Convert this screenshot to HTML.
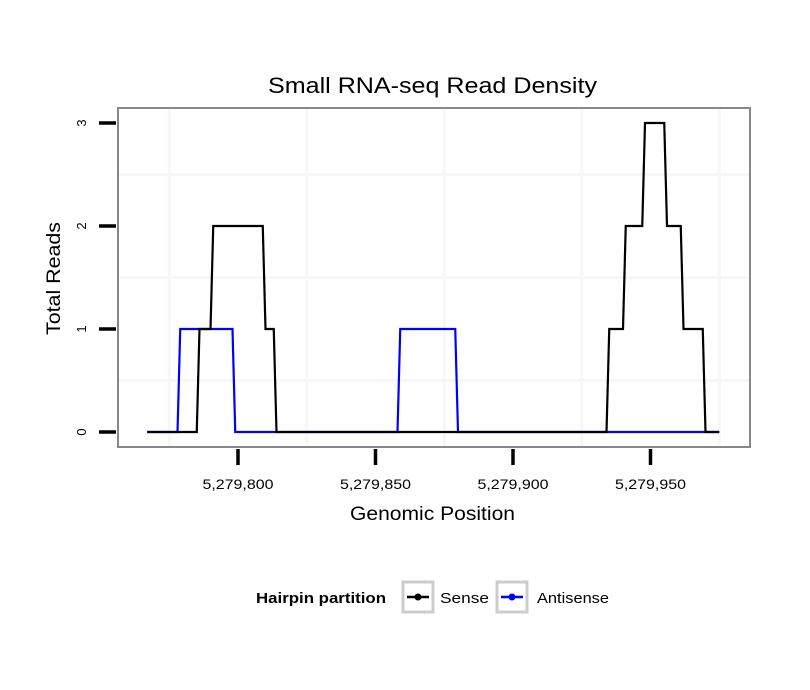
<!DOCTYPE html>
<html><head><meta charset="utf-8"><style>
body{margin:0;background:#fff;}
svg{display:block;font-family:"Liberation Sans",sans-serif;}
</style></head><body>
<svg id="chart" width="810" height="690" viewBox="0 0 810 690">
<rect x="0" y="0" width="810" height="690" fill="#fff"/>
<text x="268" y="93" font-size="22" textLength="329" lengthAdjust="spacingAndGlyphs" fill="#000">Small RNA-seq Read Density</text>
<g id="grid"></g>
<g id="series"></g>
<rect x="118" y="108" width="632" height="339" fill="none" stroke="#888" stroke-width="2"/>
<g id="axes"></g>
<text x="350" y="520" font-size="19" textLength="165" lengthAdjust="spacingAndGlyphs">Genomic Position</text>
<text transform="translate(60,335) rotate(-90)" font-size="19" textLength="113" lengthAdjust="spacingAndGlyphs">Total Reads</text>
<g>
<text x="256" y="603" font-size="15" font-weight="bold" textLength="130" lengthAdjust="spacingAndGlyphs">Hairpin partition</text>
<g>
<rect x="403" y="582" width="30" height="30" fill="#fff" stroke="#ccc" stroke-width="3"/>
<line x1="407" y1="597" x2="429" y2="597" stroke="#000" stroke-width="2.5"/>
<circle cx="418" cy="597" r="3.5" fill="#000"/>
<text x="440" y="603" font-size="15" textLength="49" lengthAdjust="spacingAndGlyphs">Sense</text>
</g>
<g>
<rect x="497" y="582" width="30" height="30" fill="#fff" stroke="#ccc" stroke-width="3"/>
<line x1="501" y1="597" x2="523" y2="597" stroke="#00f" stroke-width="2.5"/>
<circle cx="512" cy="597" r="3.5" fill="#00f"/>
<text x="537" y="603" font-size="15" textLength="72" lengthAdjust="spacingAndGlyphs">Antisense</text>
</g>
</g>
</svg>
<script>
const xTicks = [5279800, 5279850, 5279900, 5279950];
const xTickLabels = ["5,279,800", "5,279,850", "5,279,900", "5,279,950"];
const yTicks = [0, 1, 2, 3];
const yTickLabels = ["0", "1", "2", "3"];
const xGridValues = [5279775, 5279825, 5279875, 5279925, 5279975];
const yGridValues = [0.5, 1.5, 2.5];
const sensePositions = [5279767,5279785,5279786,5279790,5279791,5279809,5279810,5279813,5279814,5279934,5279935,5279940,5279941,5279947,5279948,5279955,5279956,5279961,5279962,5279969,5279970,5279975];
const senseCounts = [0,0,1,1,2,2,1,1,0,0,1,1,2,2,3,3,2,2,1,1,0,0];
const antisensePositions = [5279767,5279778,5279779,5279798,5279799,5279858,5279859,5279879,5279880,5279975];
const antisenseCounts = [0,0,1,1,0,0,1,1,0,0];

const NS = "http://www.w3.org/2000/svg";
function xs(v){ return 238 + (v - 5279800) * 2.75; }
function ys(v){ return 432 - v * 103; }
function mk(tag, attrs, parent){
  const e = document.createElementNS(NS, tag);
  for (const k in attrs) e.setAttribute(k, attrs[k]);
  parent.appendChild(e);
  return e;
}
const grid = document.getElementById('grid');
xGridValues.forEach(v => {
  const l = mk('line', {x1: xs(v), x2: xs(v), y1: 109, y2: 446, stroke: '#f7f7f7', 'stroke-width': 3}, grid);
  
  
});
yGridValues.forEach(v => {
  const l = mk('line', {x1: 119, x2: 749, y1: ys(v), y2: ys(v), stroke: '#f7f7f7', 'stroke-width': 3}, grid);
  
  
});
const axes = document.getElementById('axes');
xTicks.forEach((v, i) => {
  const t = mk('line', {x1: xs(v), x2: xs(v), y1: 449, y2: 465, stroke: '#000', 'stroke-width': 3.5}, axes);
  
  
  const tx = mk('text', {x: xs(v) - 35.5, y: 489, 'font-size': 14, textLength: 71, lengthAdjust: 'spacingAndGlyphs'}, axes);
  tx.textContent = xTickLabels[i];
  
  
});
yTicks.forEach((v, i) => {
  const t = mk('line', {x1: 99, x2: 116, y1: ys(v), y2: ys(v), stroke: '#000', 'stroke-width': 3.5}, axes);
  
  
  const tx = mk('text', {'font-size': 13, 'text-anchor': 'middle', transform: 'translate(86,' + ys(v) + ') rotate(-90)'}, axes);
  tx.textContent = yTickLabels[i];
  
  
});
const series = document.getElementById('series');
function drawLine(pos, cnt, color, name){
  const pts = pos.map((p, i) => xs(p) + ',' + ys(cnt[i])).join(' ');
  const pl = mk('polyline', {points: pts, fill: 'none', stroke: color, 'stroke-width': 2.2, 'stroke-linejoin': 'miter'}, series);
  
  
}
drawLine(antisensePositions, antisenseCounts, '#0000ff', 'antisense-line');
drawLine(sensePositions, senseCounts, '#000000', 'sense-line');
</script>
</body></html>
